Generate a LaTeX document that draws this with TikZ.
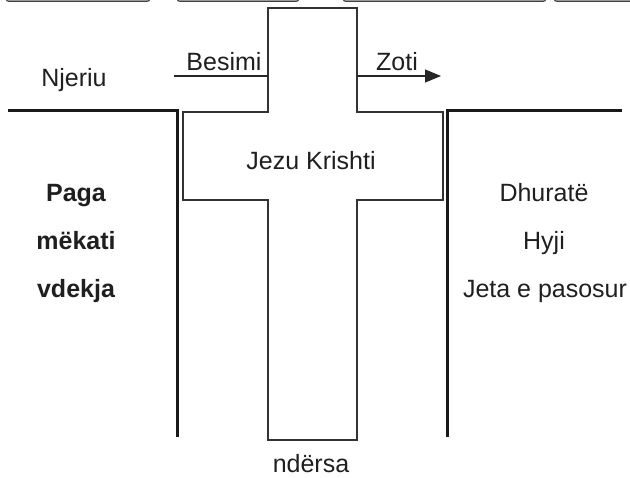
\documentclass[tikz,border=0pt]{standalone}
\usepackage{fontspec}
\setmainfont{Liberation Sans}
\usetikzlibrary{arrows.meta}
\begin{document}
\begin{tikzpicture}[x=1pt,y=-1pt,
  lbl/.style={anchor=base,inner sep=0pt,font=\fontsize{25}{30}\selectfont,text=black!88},
  blbl/.style={lbl,font=\fontsize{25}{30}\selectfont\bfseries},
  crossline/.style={draw=black!80,line width=1.3pt,line join=miter},
  wall/.style={draw=black!90,line width=3pt,line join=miter},
  thin/.style={draw=black!85,line width=1.2pt},
  topbar/.style={draw=black!75,fill=black!35,line width=1pt,rounded corners=3pt}]
\useasboundingbox (0,0) rectangle (630,478);
\begin{scope}
\clip (0,0) rectangle (630,478);
\path[topbar] (6,-20) rectangle (150,1.5);
\path[topbar] (177,-20) rectangle (299,1.5);
\path[topbar] (343,-20) rectangle (546,1.5);
\path[topbar] (554,-20) rectangle (640,1.5);
\end{scope}
% cross
\coordinate (c1) at (268,8);
\coordinate (c2) at (357,8);
\coordinate (c3) at (357,112);
\coordinate (c4) at (443,112);
\coordinate (c5) at (443,200);
\coordinate (c6) at (357,200);
\coordinate (c7) at (357,440);
\coordinate (c8) at (268,440);
\coordinate (c9) at (268,200);
\coordinate (c10) at (183,200);
\coordinate (c11) at (183,112);
\coordinate (c12) at (268,112);
\path[crossline] (c1) -- (c2) -- (c3) -- (c4) -- (c5) -- (c6) -- (c7) -- (c8) -- (c9) -- (c10) -- (c11) -- (c12) -- cycle;
% walls
\coordinate (wl1) at (8,111);
\coordinate (wl2) at (177,111);
\coordinate (wl3) at (177,437);
\coordinate (wr1) at (622,111);
\coordinate (wr2) at (447,111);
\coordinate (wr3) at (447,437);
\path[wall] (wl1) -- (wl2) -- (wl3);
\path[wall] (wr1) -- (wr2) -- (wr3);
% besimi / zoti
\coordinate (bs) at (174,76);
\coordinate (be) at (268,76);
\coordinate (zs) at (357,76);
\coordinate (ze) at (441,76);
\path[thin] (bs) -- (be);
\path[thin,-{Triangle[length=16pt,width=13pt]}] (zs) -- (ze);
% labels
\node[lbl] (njeriu) at (74,87) {Njeriu};
\node[lbl] (besimi) at (224,71) {Besimi};
\node[lbl] (zoti) at (397,71) {Zoti};
\node[lbl] (jezu) at (311,170) {Jezu Krishti};
\node[blbl] (paga) at (76,202) {Paga};
\node[blbl] (mekati) at (76,250) {mëkati};
\node[blbl] (vdekja) at (76,298) {vdekja};
\node[lbl] (dhurate) at (544,202) {Dhuratë};
\node[lbl] (hyji) at (544,250) {Hyji};
\node[lbl] (jeta) at (545,298) {Jeta e pasosur};
\node[lbl] (ndersa) at (311,473) {ndërsa};
\end{tikzpicture}
\end{document}
